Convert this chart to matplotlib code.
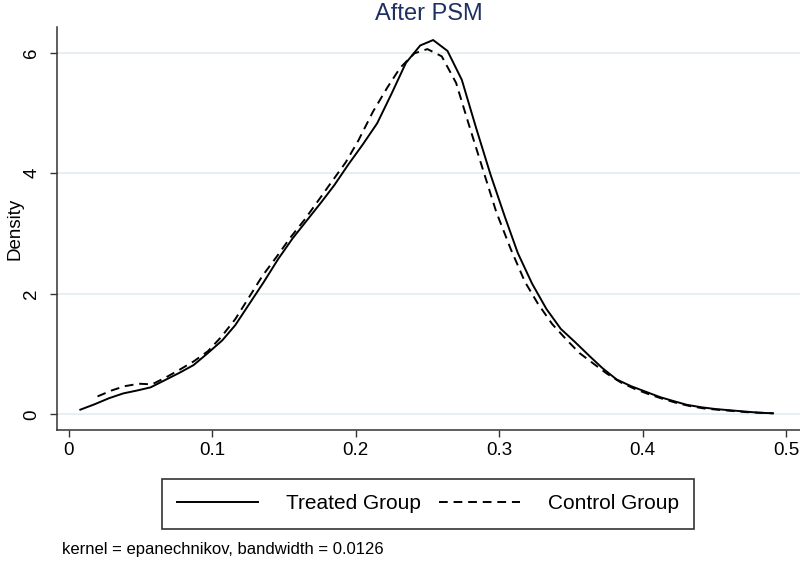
import matplotlib
matplotlib.use("Agg")
import matplotlib.pyplot as plt
import numpy as np

# kernel density estimates (Stata kdensity output)
treated_x = [0.008, 0.018, 0.028, 0.038, 0.048, 0.057, 0.067, 0.077, 0.087, 0.097,
             0.107, 0.116, 0.126, 0.136, 0.146, 0.156, 0.166, 0.176, 0.185, 0.195,
             0.205, 0.215, 0.225, 0.235, 0.245, 0.254, 0.264, 0.274, 0.284, 0.294,
             0.304, 0.313, 0.323, 0.333, 0.343, 0.353, 0.363, 0.372, 0.382, 0.392,
             0.402, 0.412, 0.422, 0.431, 0.441, 0.451, 0.461, 0.471, 0.481, 0.491]
treated_y = [0.08, 0.17, 0.27, 0.35, 0.40, 0.45, 0.57, 0.69, 0.82, 1.02,
             1.23, 1.48, 1.84, 2.20, 2.58, 2.92, 3.22, 3.52, 3.80, 4.15,
             4.48, 4.83, 5.32, 5.83, 6.12, 6.21, 6.03, 5.55, 4.75, 3.98,
             3.28, 2.68, 2.17, 1.75, 1.42, 1.20, 0.97, 0.77, 0.58, 0.47,
             0.38, 0.29, 0.22, 0.16, 0.12, 0.09, 0.07, 0.05, 0.03, 0.02]

control_x = [0.020, 0.030, 0.039, 0.049, 0.058, 0.068, 0.077, 0.087, 0.097, 0.106,
             0.116, 0.125, 0.135, 0.145, 0.154, 0.164, 0.174, 0.183, 0.193, 0.202,
             0.212, 0.222, 0.231, 0.241, 0.250, 0.260, 0.270, 0.279, 0.289, 0.298,
             0.308, 0.318, 0.327, 0.337, 0.347, 0.356, 0.366, 0.375, 0.385, 0.395,
             0.404, 0.414, 0.424, 0.433, 0.443, 0.452, 0.462, 0.472, 0.481, 0.491]
control_y = [0.30, 0.40, 0.47, 0.51, 0.50, 0.62, 0.74, 0.88, 1.05, 1.28,
             1.58, 1.92, 2.30, 2.62, 2.92, 3.22, 3.55, 3.85, 4.18, 4.55,
             5.02, 5.42, 5.75, 5.99, 6.06, 5.94, 5.50, 4.80, 4.04, 3.36,
             2.75, 2.20, 1.84, 1.50, 1.24, 1.02, 0.84, 0.68, 0.53, 0.42,
             0.34, 0.26, 0.19, 0.14, 0.10, 0.08, 0.06, 0.04, 0.03, 0.02]

x_ticks = [0, 0.1, 0.2, 0.3, 0.4, 0.5]
x_labels = ["0", "0.1", "0.2", "0.3", "0.4", "0.5"]
y_ticks = [0, 2, 4, 6]
y_labels = ["0", "2", "4", "6"]

plt.rcParams['font.family'] = ['Liberation Sans', 'DejaVu Sans']

fig = plt.figure(figsize=(8, 5.64), dpi=100)
ax = fig.add_axes([0.071, 0.2376, 0.929, 0.7145])

for y in y_ticks:
    ax.axhline(y, color="#e0ebef", lw=1.1, zorder=0)

ax.plot(treated_x, treated_y, '-', color="black", lw=1.4, label="Treated Group")
ax.plot(control_x, control_y, '--', color="black", lw=1.4, dashes=(4.5, 3),
        label="Control Group")

ax.set_xlim(-0.0084, 0.5098)
ax.set_ylim(-0.257, 6.426)
ax.set_xticks(x_ticks)
ax.set_xticklabels(x_labels)
ax.set_yticks(y_ticks)
ax.set_yticklabels(y_labels, rotation=90, va="center")

for s in ["top", "right"]:
    ax.spines[s].set_visible(False)
for s in ["left", "bottom"]:
    ax.spines[s].set_color("#333333")
    ax.spines[s].set_linewidth(1.1)

ax.tick_params(axis="x", length=5, width=1, color="#333333", labelsize=13.5, pad=4)
ax.tick_params(axis="y", length=5, width=1, color="#333333", labelsize=13.5, pad=7)

ax.set_ylabel("Density", fontsize=13.5)
ax.yaxis.set_label_coords(-0.045, 0.5)
ax.set_title("After PSM", fontsize=17, color="#1e3060", pad=5)

leg = fig.legend(loc="center", bbox_to_anchor=(0.535, 0.107), ncol=2, fontsize=15,
                 frameon=True, fancybox=False, edgecolor="black",
                 handlelength=3.85, handletextpad=1.35, columnspacing=0.9,
                 borderpad=0.75)
leg.get_frame().set_linewidth(1.2)

fig.text(0.077, 0.025, "kernel = epanechnikov, bandwidth = 0.0126", fontsize=12,
         ha="left", va="center")

fig.savefig("out.png", dpi=100)
